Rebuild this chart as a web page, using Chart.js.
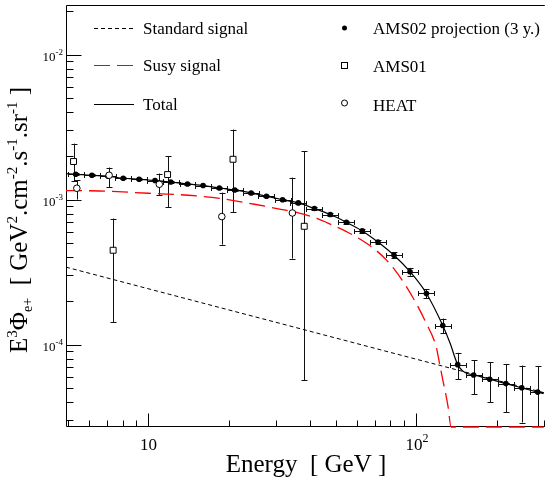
<!DOCTYPE html>
<html>
<head>
<meta charset="utf-8">
<script src="https://cdn.jsdelivr.net/npm/chart.js@4.4.1/dist/chart.umd.min.js"></script>
<style>
  html, body { margin: 0; padding: 0; background: #fff; }
  #wrap { width: 549px; height: 484px; }
</style>
</head>
<body>
<div id="wrap"><canvas id="fluxChart" width="549" height="484"></canvas></div>
<script>
// E^3 x positron flux, GeV^2 cm^-2 s^-1 sr^-1
const ams02Energy = [5.35, 6.15, 7.07, 8.05, 9.23, 10.58, 12.12, 13.99, 16.0, 18.4, 21.0, 24.2, 27.6, 31.7, 36.3,
  41.7, 47.8, 54.9, 62.9, 72.0, 82.7, 94.9, 109.3, 125.8, 143.0, 164.0, 188.4, 216.5, 248.2, 284.5]
const ams02Flux = [1.494e-3, 1.471e-3, 1.449e-3, 1.403e-3, 1.380e-3, 1.352e-3, 1.322e-3, 1.281e-3, 1.249e-3, 1.202e-3,
  1.165e-3, 1.111e-3, 1.054e-3, 9.97e-4, 9.48e-4, 8.67e-4, 7.88e-4, 6.97e-4, 6.08e-4, 5.10e-4,
  4.13e-4, 3.18e-4, 2.25e-4, 1.352e-4, 7.27e-5, 6.17e-5, 5.77e-5, 5.38e-5, 5.03e-5, 4.70e-5]
const ams02Err = [2.0e-5, 2.0e-5, 2.0e-5, 1.9e-5, 1.9e-5, 1.9e-5, 1.8e-5, 1.8e-5, 1.8e-5, 1.8e-5,
  1.7e-5, 1.7e-5, 1.7e-5, 1.7e-5, 1.6e-5, 1.6e-5, 1.6e-5, 1.6e-5, 1.6e-5, 1.7e-5,
  1.9e-5, 2.0e-5, 1.6e-5, 1.6e-5, 1.5e-5, 1.63e-5, 1.77e-5, 1.97e-5, 2.13e-5, 2.38e-5]
const ams02BinFactor = 1.071

const ams01Energy = [5.25, 7.38, 11.79, 20.7, 38.2]
const ams01Flux = [1.83e-3, 4.47e-4, 1.487e-3, 1.896e-3, 6.54e-4]
const ams01Low = [1.34e-3, 1.42e-4, 8.89e-4, 8.21e-4, 5.67e-5]
const ams01High = [2.43e-3, 7.40e-4, 1.99e-3, 3.04e-3, 2.16e-3]

const heatEnergy = [5.40, 7.13, 10.98, 18.8, 34.5]
const heatFlux = [1.197e-3, 1.471e-3, 1.275e-3, 7.63e-4, 8.08e-4]
const heatLow = [1.0e-3, 1.221e-3, 1.076e-3, 4.89e-4, 3.92e-4]
const heatHigh = [1.359e-3, 1.663e-3, 1.511e-3, 1.117e-3, 1.418e-3]

const standardEnergy = [4.92, 100, 300]
const standardFlux = [3.42e-4, 7.93e-5, 4.66e-5]

const susyEnergy = [4.92, 6.55, 10.0, 14.1, 18.7, 24.9, 31.2, 36.0, 42.8, 46.6, 55.2, 65.5, 77.7, 92.1,
  109.2, 118.9, 122.3, 125.9, 131.4, 135.2, 300]
const susyFlux = [1.153e-3, 1.146e-3, 1.105e-3, 1.071e-3, 1.016e-3, 9.28e-4, 8.57e-4, 8.13e-4, 7.40e-4, 6.90e-4,
  5.98e-4, 4.97e-4, 3.81e-4, 2.50e-4, 1.40e-4, 9.62e-5, 7.43e-5, 5.67e-5, 3.81e-5, 2.7e-5, 2.7e-5]

const totalEnergy = [4.92, 5.35, 6.15, 7.07, 8.05, 9.23, 10.58, 12.12, 13.99, 16.0, 18.4, 21.0, 24.2, 27.6, 31.7,
  36.3, 41.7, 47.8, 54.9, 62.9, 72.0, 82.7, 94.9, 109.3, 125.8, 134, 143.0, 149.3, 155, 164.0,
  188.4, 216.5, 248.2, 284.5, 300]
const totalFlux = [1.511e-3, 1.494e-3, 1.471e-3, 1.449e-3, 1.403e-3, 1.380e-3, 1.352e-3, 1.322e-3, 1.281e-3, 1.249e-3,
  1.202e-3, 1.165e-3, 1.111e-3, 1.054e-3, 9.97e-4, 9.48e-4, 8.67e-4, 7.88e-4, 6.97e-4, 6.08e-4,
  5.10e-4, 4.13e-4, 3.18e-4, 2.25e-4, 1.352e-4, 1.02e-4, 7.27e-5, 6.58e-5, 6.31e-5, 6.17e-5,
  5.77e-5, 5.38e-5, 5.03e-5, 4.70e-5, 4.58e-5]

// axis ticks
const xMajorTicks = [10, 100]
const xMinorTicks = [5, 6, 7, 8, 9, 20, 30, 40, 50, 60, 70, 80, 90, 200, 300]
const xTickLabels = [['10', ''], ['10', '2']]
const yMajorTicks = [1e-4, 1e-3, 1e-2]
const yMinorTicks = [3e-5, 4e-5, 5e-5, 6e-5, 7e-5, 8e-5, 9e-5, 2e-4, 3e-4, 4e-4, 5e-4, 6e-4, 7e-4, 8e-4, 9e-4,
  2e-3, 3e-3, 4e-3, 5e-3, 6e-3, 7e-3, 8e-3, 9e-3, 2e-2]
const yTickLabels = [['10', '-4'], ['10', '-3'], ['10', '-2']]

const SERIF = '"Liberation Serif", "DejaVu Serif", serif'

const toPoints = (xs, ys) => xs.map((x, i) => ({ x: x, y: ys[i] }))

// draws a run of text pieces, each with its own size and baseline shift
function drawPieces(ctx, pieces, x, y, align) {
  let width = 0
  pieces.forEach(p => {
    ctx.font = p.size + 'px ' + SERIF
    p.w = ctx.measureText(p.t).width
    width += p.w
  })
  let cx = x
  if (align === 'center') cx = x - width / 2
  if (align === 'right') cx = x - width
  ctx.textAlign = 'left'
  ctx.textBaseline = 'alphabetic'
  pieces.forEach(p => {
    ctx.font = p.size + 'px ' + SERIF
    ctx.fillText(p.t, cx, y + (p.dy || 0))
    cx += p.w
  })
}

const framePlugin = {
  id: 'frame',
  beforeDatasetsDraw(chart) {
    const ctx = chart.ctx
    const a = chart.chartArea
    const xs = chart.scales.x
    const ys = chart.scales.y
    const L = Math.round(a.left) + 0.5
    const B = Math.round(a.bottom) - 0.5
    const T = Math.round(a.top) + 0.5
    ctx.save()
    ctx.strokeStyle = '#000'
    ctx.lineWidth = 1
    ctx.beginPath()
    ctx.moveTo(a.right + 1, T)
    ctx.lineTo(L, T)
    ctx.lineTo(L, B)
    ctx.lineTo(a.right + 1, B)
    xMajorTicks.concat(xMinorTicks).forEach(v => {
      const px = Math.round(xs.getPixelForValue(v)) + 0.5
      const len = xMajorTicks.includes(v) ? 13 : 6
      ctx.moveTo(px, B)
      ctx.lineTo(px, B - len)
    })
    yMajorTicks.concat(yMinorTicks).forEach(v => {
      const py = Math.round(ys.getPixelForValue(v)) + 0.5
      const len = yMajorTicks.includes(v) ? 15 : 7
      ctx.moveTo(L, py)
      ctx.lineTo(L + len, py)
    })
    ctx.stroke()
    ctx.restore()
  }
}

const errorBarPlugin = {
  id: 'errorBars',
  beforeDatasetsDraw(chart) {
    const ctx = chart.ctx
    const a = chart.chartArea
    const xs = chart.scales.x
    const ys = chart.scales.y
    ctx.save()
    ctx.beginPath()
    ctx.rect(a.left, a.top, a.right - a.left, a.bottom - a.top)
    ctx.clip()
    ctx.strokeStyle = '#111'
    ctx.lineWidth = 1
    chart.data.datasets.forEach(ds => {
      if (!ds.errLow) return
      ds.data.forEach((pt, i) => {
        const px = Math.round(xs.getPixelForValue(pt.x)) + 0.5
        const py = Math.round(ys.getPixelForValue(pt.y)) + 0.5
        const yLo = ys.getPixelForValue(ds.errLow[i])
        const yHi = ys.getPixelForValue(ds.errHigh[i])
        ctx.beginPath()
        ctx.moveTo(px, yLo)
        ctx.lineTo(px, yHi)
        ctx.moveTo(px - 3, Math.round(yLo) + 0.5)
        ctx.lineTo(px + 3, Math.round(yLo) + 0.5)
        ctx.moveTo(px - 3, Math.round(yHi) + 0.5)
        ctx.lineTo(px + 3, Math.round(yHi) + 0.5)
        if (ds.binFactor) {
          const xLo = Math.round(xs.getPixelForValue(pt.x / ds.binFactor)) + 0.5
          const xHi = Math.round(xs.getPixelForValue(pt.x * ds.binFactor)) + 0.5
          ctx.moveTo(xLo, py)
          ctx.lineTo(xHi, py)
          ctx.moveTo(xLo, py - 2.5)
          ctx.lineTo(xLo, py + 2.5)
          ctx.moveTo(xHi, py - 2.5)
          ctx.lineTo(xHi, py + 2.5)
        }
        ctx.stroke()
      })
    })
    ctx.restore()
  }
}

const textPlugin = {
  id: 'texts',
  afterDraw(chart) {
    const ctx = chart.ctx
    const a = chart.chartArea
    const xs = chart.scales.x
    const ys = chart.scales.y
    ctx.save()
    ctx.fillStyle = '#000'

    // tick labels
    xMajorTicks.forEach((v, i) => {
      const px = xs.getPixelForValue(v)
      const lab = xTickLabels[i]
      const pieces = [{ t: lab[0], size: 17 }]
      if (lab[1]) pieces.push({ t: lab[1], size: 12, dy: -8 })
      drawPieces(ctx, pieces, px + (lab[1] ? 1 : 0), a.bottom + 23, 'center')
    })
    yMajorTicks.forEach((v, i) => {
      const py = ys.getPixelForValue(v)
      const lab = yTickLabels[i]
      drawPieces(ctx, [{ t: lab[0], size: 13 }, { t: lab[1], size: 9, dy: -6 }], a.left - 3, py + 6, 'right')
    })

    // axis titles
    drawPieces(ctx, [{ t: 'Energy  [ GeV ]', size: 25 }], 306, 472, 'center')
    ctx.save()
    ctx.translate(27, 353)
    ctx.rotate(-Math.PI / 2)
    drawPieces(ctx, [
      { t: 'E', size: 25 }, { t: '3', size: 15, dy: -10 }, { t: '\u03A6', size: 25 },
      { t: 'e+', size: 14, dy: 5 }, { t: '  [ GeV', size: 25 }, { t: '2', size: 15, dy: -10 },
      { t: '.cm', size: 25 }, { t: '-2', size: 15, dy: -10 }, { t: '.s', size: 25 },
      { t: '-1', size: 15, dy: -10 }, { t: '.sr', size: 25 }, { t: '-1', size: 15, dy: -10 },
      { t: ' ]', size: 25 }
    ], 0, 0, 'left')
    ctx.restore()

    // legend, left column: lines
    const rows = [27.5, 65, 104]
    const lineSamples = [
      { label: 'Standard signal', color: '#000', dash: [4, 3] },
      { label: 'Susy signal', color: '#ff0000', dash: [16, 7] },
      { label: 'Total', color: '#000', dash: [] }
    ]
    lineSamples.forEach((s, i) => {
      ctx.save()
      ctx.strokeStyle = s.color
      ctx.lineWidth = 1
      ctx.setLineDash(s.dash)
      ctx.beginPath()
      ctx.moveTo(94, Math.round(rows[i]) + 0.5)
      ctx.lineTo(134, Math.round(rows[i]) + 0.5)
      ctx.stroke()
      ctx.restore()
      drawPieces(ctx, [{ t: s.label, size: 17 }], 143, rows[i] + 6, 'left')
    })

    // legend, right column: markers
    const mx = 344.5
    ctx.lineWidth = 1
    ctx.strokeStyle = '#000'
    ctx.beginPath()
    ctx.arc(mx, rows[0] + 0.5, 2.5, 0, Math.PI * 2)
    ctx.fill()
    ctx.fillStyle = '#fff'
    ctx.fillRect(mx - 3, rows[1] - 2.5, 6, 6)
    ctx.strokeRect(mx - 3, rows[1] - 2.5, 6, 6)
    ctx.beginPath()
    ctx.arc(mx, rows[2] - 1, 3, 0, Math.PI * 2)
    ctx.fill()
    ctx.stroke()
    ctx.fillStyle = '#000'
    drawPieces(ctx, [{ t: 'AMS02 projection (3 y.)', size: 17 }], 373, rows[0] + 6.5, 'left')
    drawPieces(ctx, [{ t: 'AMS01', size: 17 }], 373, rows[1] + 6.5, 'left')
    drawPieces(ctx, [{ t: 'HEAT', size: 17 }], 373, rows[2] + 6.5, 'left')
    ctx.restore()
  }
}

const ctx = document.getElementById('fluxChart').getContext('2d')

const chart = new Chart(ctx, {
  type: 'scatter',
  data: {
    datasets: [
      {
        label: 'HEAT',
        data: toPoints(heatEnergy, heatFlux),
        errLow: heatLow,
        errHigh: heatHigh,
        pointStyle: 'circle',
        pointRadius: 3.3,
        backgroundColor: '#fff',
        borderColor: '#000',
        borderWidth: 1,
        order: 1
      },
      {
        label: 'AMS01',
        data: toPoints(ams01Energy, ams01Flux),
        errLow: ams01Low,
        errHigh: ams01High,
        pointStyle: 'rect',
        pointRadius: 4.2,
        backgroundColor: '#fff',
        borderColor: '#000',
        borderWidth: 1,
        order: 1
      },
      {
        label: 'AMS02 projection (3 y.)',
        data: toPoints(ams02Energy, ams02Flux),
        errLow: ams02Flux.map((f, i) => f - ams02Err[i]),
        errHigh: ams02Flux.map((f, i) => f + ams02Err[i]),
        binFactor: ams02BinFactor,
        pointStyle: 'circle',
        pointRadius: 2.8,
        backgroundColor: '#000',
        borderColor: '#000',
        borderWidth: 0,
        order: 2
      },
      {
        label: 'Total',
        data: toPoints(totalEnergy, totalFlux),
        showLine: true,
        borderColor: '#000',
        borderWidth: 1.2,
        pointRadius: 0,
        cubicInterpolationMode: 'monotone',
        order: 3
      },
      {
        label: 'Susy signal',
        data: toPoints(susyEnergy, susyFlux),
        showLine: true,
        borderColor: '#ff0000',
        borderWidth: 1.3,
        borderDash: [16, 7],
        pointRadius: 0,
        cubicInterpolationMode: 'monotone',
        clip: 3,
        order: 4
      },
      {
        label: 'Standard signal',
        data: toPoints(standardEnergy, standardFlux),
        showLine: true,
        borderColor: '#000',
        borderWidth: 1,
        borderDash: [4, 3],
        pointRadius: 0,
        order: 5
      }
    ]
  },
  options: {
    responsive: false,
    animation: false,
    layout: { padding: { left: 66, right: 1, top: 4, bottom: 57 } },
    scales: {
      x: { type: 'logarithmic', min: 4.92, max: 300, display: false },
      y: { type: 'logarithmic', min: 2.7e-5, max: 0.0219, display: false }
    },
    plugins: {
      legend: { display: false },
      tooltip: { enabled: false }
    }
  },
  plugins: [framePlugin, errorBarPlugin, textPlugin]
})
</script>
</body>
</html>
